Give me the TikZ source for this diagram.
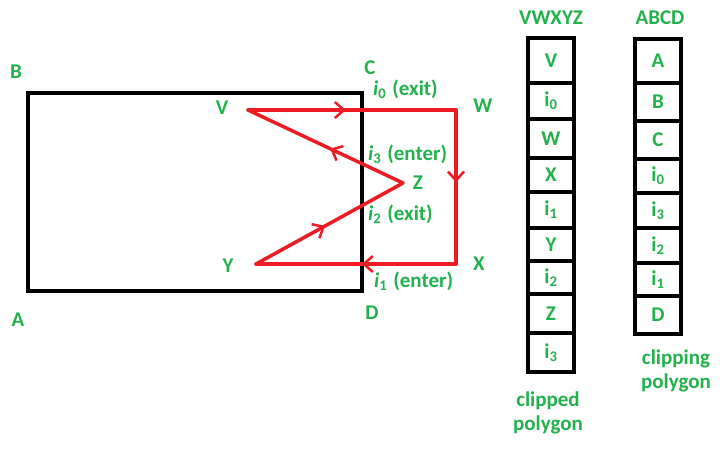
\documentclass[tikz,border=0pt]{standalone}
\usepackage{fontspec}
\setmainfont{Carlito}
\usetikzlibrary{arrows.meta,decorations.markings}
\definecolor{paintgreen}{RGB}{34,177,76}
\definecolor{paintred}{RGB}{237,28,36}
\tikzset{
  lbl/.style={text=paintgreen, font=\fontsize{21}{24}\selectfont\bfseries, inner sep=0pt},
  cell/.style={draw, line width=3.5pt, minimum width=46pt, inner sep=0pt, text=paintgreen, font=\fontsize{21}{24}\selectfont\bfseries},
  edge/.style={paintred, line width=3.5pt, line cap=round, line join=round,
    postaction={decorate}, decoration={markings, mark=at position 0.47 with {\arrow{Straight Barb[length=9pt,width=16pt,line width=2.5pt]}}}},
}
\newcommand{\isub}[1]{\textit{i}\textsubscript{#1}\hspace{6pt}}
\newcommand{\usub}[1]{i\textsubscript{#1}}
\begin{document}
\begin{tikzpicture}[x=1pt, y=-1pt]
  \useasboundingbox (0,0) rectangle (728,458);
  % clipping window ABCD
  \coordinate (A) at (28,291);
  \coordinate (C) at (362,93);
  \draw[line width=4pt] (A) rectangle (C);
  \node[lbl] (lA) at (18,320) {A};
  \node[lbl] (lB) at (16,72) {B};
  \node[lbl] (lC) at (370,68) {C};
  \node[lbl] (lD) at (372,313) {D};
  % subject polygon VWXYZ
  \coordinate (V) at (248,110);
  \coordinate (W) at (456,110);
  \coordinate (X) at (456,264);
  \coordinate (Y) at (256,264);
  \coordinate (Z) at (403,183);
  \draw[edge] (V) -- (W);
  \draw[edge] (W) -- (X);
  \draw[edge] (X) -- (Y);
  \draw[edge] (Y) -- (Z);
  \draw[edge] (Z) -- (V);
  \node[lbl] (lV) at (222,108) {V};
  \node[lbl] (lW) at (483,106) {W};
  \node[lbl] (lX) at (479,264) {X};
  \node[lbl] (lY) at (228,266) {Y};
  \node[lbl] (lZ) at (418,183) {Z};
  \node[lbl, anchor=west] (i0) at (373,89) {\isub{0}(exit)};
  \node[lbl, anchor=west] (i3) at (368,154) {\isub{3}(enter)};
  \node[lbl, anchor=west] (i2) at (368,214) {\isub{2}(exit)};
  \node[lbl, anchor=west] (i1) at (374,281) {\isub{1}(enter)};
  % clipped polygon list
  \node[lbl] (tv) at (551,18) {VWXYZ};
  \foreach \name/\txt/\top/\bot in {p1/V/38/83, p2/\usub{0}/83/119, p3/W/119/158,
      p4/X/158/192, p5/\usub{1}/192/228, p6/Y/228/261, p7/\usub{2}/261/294,
      p8/Z/294/333, p9/\usub{3}/333/372}
    \node[cell, minimum height={\bot-\top}] (\name) at (551,{(\top+\bot)/2}) {\txt};
  \node[lbl, align=center] (cp) at (548,413) {clipped\\polygon};
  % clipping polygon list
  \node[lbl] (ta) at (660,18) {ABCD};
  \foreach \name/\txt/\top/\bot in {q1/A/39/83, q2/B/83/121, q3/C/121/159,
      q4/\usub{0}/159/193, q5/\usub{3}/193/228, q6/\usub{2}/228/263,
      q7/\usub{1}/263/296, q8/D/296/334}
    \node[cell, minimum height={\bot-\top}] (\name) at (658,{(\top+\bot)/2}) {\txt};
  \node[lbl, align=center] (cg) at (676,371) {clipping\\polygon};
\end{tikzpicture}
\end{document}
